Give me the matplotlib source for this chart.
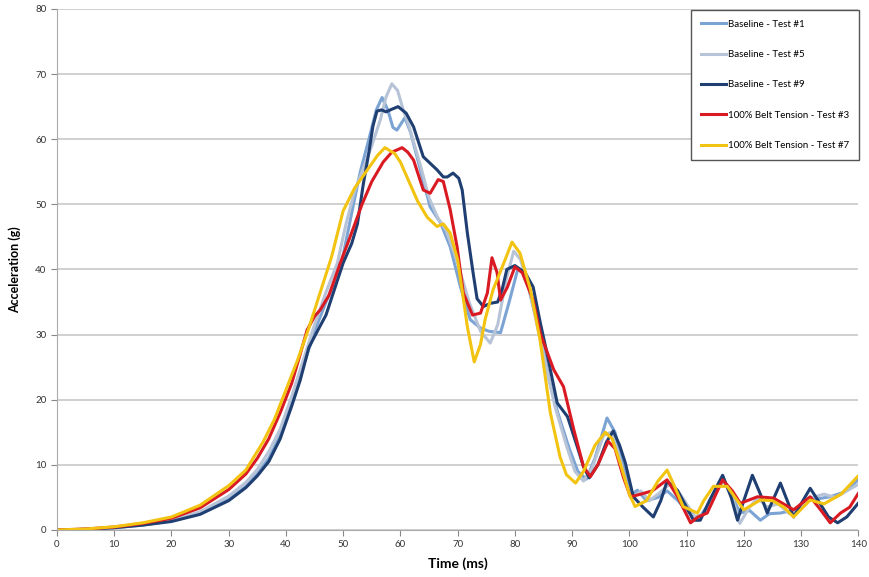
#!/usr/bin/env python3
"""Acceleration traces: baseline tests vs 100% belt tension tests."""

import matplotlib.pyplot as plt

# Baseline - Test #1
t_r1 = [0, 5, 10, 15, 20, 25, 30, 33, 35, 37, 39, 41, 43, 45, 47, 49.5, 51.8, 53, 54.5, 55.8,
        56.8, 57.8, 58.7, 59.4, 60.2, 60.8, 61.8, 63.5, 65.2, 67, 68.7, 70.5, 72.2, 74, 75.5,
        77.5, 79, 80.5, 81.8, 83, 84.5, 86, 87.5, 89.5, 91, 92.5, 94, 96.1, 97.5, 99, 100.5,
        101.4, 103, 105, 106.6, 108.5, 110, 111.9, 113.5, 116.3, 118, 119.4, 121, 122.9, 124.5,
        126.4, 128.5, 131.6, 135.1, 137.5, 140]
a_r1 = [0, 0.1, 0.35, 0.75, 1.4, 2.5, 4.7, 6.7, 8.6, 11, 14.5, 19.5, 25, 30.5, 35, 40, 50, 55, 60, 64.5,
        66.4, 64.5, 61.8, 61.4, 62.5, 63.3, 61, 55.3, 49.6, 47.2, 43.5, 37.3, 32.3, 31, 30.5,
        30.3, 35, 40, 39.5, 35, 30, 23, 18, 12.5, 9, 7.8, 11, 17.2, 15, 9.5, 5.5,
        6.1, 4.5, 5, 6, 4.5, 3, 1.5, 3.5, 8.2, 5, 2.6, 3, 1.5, 2.5,
        2.6, 3, 4.6, 5.1, 5.8, 7.7]

# Baseline - Test #5
t_r5 = [0, 5, 10, 15, 20, 25, 30, 33, 35, 37, 39, 41, 43, 45, 47, 49, 50.5, 52, 53.5, 55,
        56.5, 57.5, 58.5, 59.5, 60.5, 61.5, 62.5, 63.5, 65, 66.5, 68, 70, 72, 74, 75.7, 77,
        78.5, 79.8, 81, 82.5, 84, 85.5, 87, 89, 90.5, 92, 93.5, 95.5, 96.8, 98, 99.5, 100.8,
        102, 103.5, 105, 107, 108.5, 110, 111.5, 113, 115, 116.5, 118, 119.3, 121, 122.5, 124,
        126, 128, 130, 132, 134, 136, 138, 140]
a_r5 = [0, 0.1, 0.4, 0.8, 1.5, 2.8, 5.2, 7.3, 9.3, 12, 15.5, 20.5, 26, 31.5, 36.5, 41, 47, 52, 55.5, 59,
        63, 66.5, 68.5, 67.5, 64.5, 62, 59, 56, 51, 48, 46, 41, 35, 30.5, 28.7, 31.5,
        38.5, 42.8, 41.5, 37, 31, 25, 19, 13, 9, 7.5, 9.5, 14.5, 15, 12, 7, 5,
        6, 4.5, 5.5, 7, 6, 4, 2, 2.5, 6, 7.5, 5, 1, 3.5, 5, 3.5,
        4, 2.5, 3.5, 5, 5.5, 5, 6, 7]

# Baseline - Test #9
t_r9 = [0, 5, 10, 15, 20, 25, 30, 33, 35, 37, 39, 41, 42.5, 44, 45.6, 47, 48.5, 50, 51.5, 52.5,
        53.5, 54.5, 55.2, 55.9, 56.7, 57.5, 58.5, 59.6, 61, 62.3, 64, 66.4, 67.5, 68.2, 69.2,
        70.2, 70.8, 71.7, 72.7, 73.4, 74.5, 75.7, 77, 77.8, 78.6, 80, 81.8, 83.2, 84.4, 85.6,
        87.4, 89.2, 90.9, 92, 93, 94.5, 96, 97.2, 98.3, 99.3, 100.7, 102.4, 104.2, 105.5, 106.6,
        108.4, 110, 111.2, 112.4, 114, 116.3, 117.8, 118.9, 120, 121.5, 122.9, 124.1, 126.4,
        128.7, 130, 131.6, 133, 134.8, 136.4, 138, 140]
a_r9 = [0, 0.1, 0.35, 0.75, 1.3, 2.4, 4.5, 6.5, 8.3, 10.5, 14, 19, 23, 28, 30.7, 33, 37, 41, 44, 47,
        53, 58, 62, 64.3, 64.5, 64.2, 64.6, 65.0, 64, 61.9, 57.3, 55.3, 54.2, 54.2, 54.8,
        54, 52.2, 45.6, 39.5, 35.5, 34.3, 34.8, 35, 37, 40, 40.6, 39.5, 37.3, 32, 27.2,
        19.5, 17.4, 12.8, 9.7, 8, 10, 13.5, 15.2, 13, 10.3, 5.1, 3.5, 2.0, 4.5, 7.5,
        6.1, 3.5, 1.5, 1.5, 4.5, 8.4, 5, 1.5, 4.5, 8.4, 5.5, 2.6, 7.2,
        2.0, 4, 6.4, 4.5, 2, 1.1, 2, 4.1]

# 100% Belt Tension - Test #3
t_r3 = [0, 5, 10, 15, 20, 25, 30, 33, 35, 37, 39, 41, 42.5, 43.7, 45, 46, 47.5, 49.5, 51, 53.3,
        55, 57, 58.5, 60.3, 61.3, 62.3, 64, 65.2, 66.6, 67.5, 68.7, 69.9, 71, 72.6, 74, 75.2,
        76, 76.9, 77.5, 78.7, 80, 81.3, 83.2, 84.5, 86.8, 88.5, 90.3, 92, 93.2, 94.5, 96.3,
        97.5, 99, 100.2, 102, 104, 106.6, 108.5, 110.7, 112, 113.6, 116.3, 118, 119.4, 122.4,
        125.2, 128.7, 131.6, 133.5, 135.1, 136.9, 138.5, 140]
a_r3 = [0, 0.15, 0.45, 1.0, 1.8, 3.4, 6.2, 8.6, 11, 14, 18, 22.5, 27, 30.7, 32.8, 33.8, 36, 41, 44.5, 50,
        53.5, 56.5, 58, 58.7, 58, 56.8, 52.2, 51.7, 53.8, 53.5, 49.2, 43.5, 36.4, 33, 33.3, 36.4,
        41.8, 39.5, 35.3, 37.3, 40.4, 39.5, 35.3, 30, 24.6, 22, 15.4, 9.7, 8.2, 10, 13.6,
        12.5, 8, 5.1, 5.5, 6, 7.7, 5, 1.1, 2, 2.6, 7.7, 6, 4.1, 5.1,
        4.9, 3.1, 5.1, 3, 1.1, 2.6, 3.5, 5.6]

# 100% Belt Tension - Test #7
t_r7 = [0, 5, 10, 15, 20, 25, 30, 33, 36, 38, 40, 42, 44, 46, 48, 50, 52, 54, 56, 57.3,
        59, 60, 62, 63, 64.7, 66.4, 67.5, 68.7, 70, 71, 71.7, 72.9, 74, 74.8, 76.2, 78.3,
        79.5, 80.9, 82.7, 84.4, 86.2, 87.9, 89, 90.6, 92, 94, 95.8, 97, 98.5, 100, 101,
        103, 105, 106.6, 108, 109.4, 111.9, 113, 114.7, 117.1, 120, 122.9, 125, 127, 128.7,
        131.6, 134, 137, 140]
a_r7 = [0, 0.15, 0.5, 1.1, 2.0, 3.8, 6.8, 9.2, 13.5, 17, 21.5, 26, 31, 36.5, 42, 49, 52.5, 55, 57.5, 58.7,
        57.8, 56.5, 52.5, 50.5, 48, 46.6, 47, 45.6, 41.5, 35.5, 31.2, 25.8, 28.5, 32.3, 36.9, 41.5,
        44.2, 42.5, 37, 29.2, 18, 11.2, 8.5, 7.2, 9, 13, 15, 14, 10, 5.5, 3.6,
        4.5, 7.5, 9.2, 6.5, 3.6, 2.6, 4.5, 6.7, 6.7, 3.1, 4.6, 4.5, 3.5, 2.0,
        4.6, 4.0, 5.5, 8.3]

series = [
    ("Baseline - Test #1", t_r1, a_r1, "#7ba3d4"),
    ("Baseline - Test #5", t_r5, a_r5, "#b7c3d6"),
    ("Baseline - Test #9", t_r9, a_r9, "#1f3f72"),
    ("100% Belt Tension - Test #3", t_r3, a_r3, "#d91a23"),
    ("100% Belt Tension - Test #7", t_r7, a_r7, "#f3c311"),
]

x_ticks = list(range(0, 141, 10))
y_ticks = list(range(0, 81, 10))

plt.rcParams["font.family"] = ["Lato", "DejaVu Sans"]

fig = plt.figure(figsize=(8.7, 5.77), dpi=100)
ax = fig.add_axes([0.0655, 0.0815, 0.921, 0.903])

for label, t, a, color in series:
    ax.plot(t, a, color=color, linewidth=2.2, label=label, solid_joinstyle="round")

ax.set_xlim(0, 140)
ax.set_ylim(0, 80)
ax.set_xticks(x_ticks)
ax.set_yticks(y_ticks)
ax.tick_params(axis="both", labelsize=7, colors="#888888", labelcolor="#333333", length=4)
ax.yaxis.grid(True, color="#c8c8c8", linewidth=1.2)
ax.set_axisbelow(True)
for side in ("top", "right"):
    ax.spines[side].set_visible(False)
for side in ("left", "bottom"):
    ax.spines[side].set_color("#aaaaaa")

ax.set_xlabel("Time (ms)", fontsize=10, fontweight="bold", labelpad=6)
ax.set_ylabel("Acceleration (g)", fontsize=9, fontweight="bold", labelpad=10)

leg = ax.legend(loc="upper right", bbox_to_anchor=(864 / 870, 1 - 5 / 577),
                bbox_transform=fig.transFigure, fontsize=7, labelspacing=2.2,
                handlelength=2.6, handletextpad=0.2, borderpad=1.0,
                fancybox=False, framealpha=1)
leg.get_frame().set_edgecolor("#555555")
leg.get_frame().set_linewidth(1.0)

fig.savefig("out.png", dpi=100)
plt.close(fig)
